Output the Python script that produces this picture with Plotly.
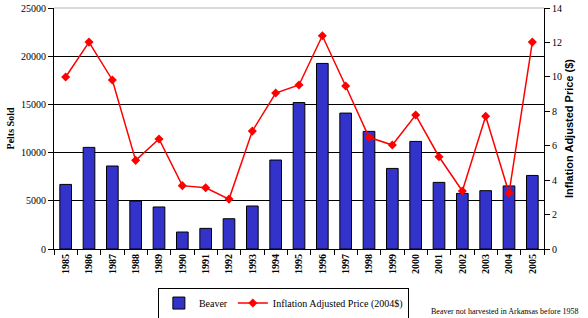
import plotly.graph_objects as go

years = [str(y) for y in range(1985, 2006)]
pelts = [6700, 10540, 8610, 4980, 4360, 1760, 2140, 3140, 4460, 9230, 15190,
         19250, 14100, 12200, 8360, 11160, 6910, 5770, 6050, 6540, 7630]
price = [9.99, 12.02, 9.82, 5.15, 6.39, 3.68, 3.56, 2.90, 6.85, 9.06, 9.53,
         12.39, 9.47, 6.49, 6.04, 7.78, 5.36, 3.37, 7.71, 3.25, 12.02]

serif = "Liberation Serif"
sans = "Liberation Sans"

fig = go.Figure()
fig.add_trace(go.Bar(
    x=years, y=pelts, name="Beaver",
    marker=dict(color="#3333CC", line=dict(color="#000000", width=1)),
    yaxis="y"))
fig.add_trace(go.Scatter(
    x=years, y=price, name="Inflation Adjusted Price (2004$)",
    mode="lines+markers",
    line=dict(color="#FF0000", width=1.5),
    marker=dict(symbol="diamond", size=7, color="#FF0000"),
    yaxis="y2"))

fig.update_layout(
    width=588, height=318,
    margin=dict(l=54, r=44, t=8, b=69, autoexpand=False),
    paper_bgcolor="white", plot_bgcolor="white",
    bargap=0.5,
    showlegend=True,
    legend=dict(orientation="h", x=0.212, y=-0.16, xanchor="left", yanchor="top",
                bordercolor="#000000", borderwidth=1,
                font=dict(family=serif, size=10, color="#000"),
                itemwidth=30, tracegroupgap=0, entrywidthmode="pixels"),
    xaxis=dict(type="category", range=[-0.5, 20.5], autorange=False,
               tickangle=-90, showline=True, linecolor="#000",
               ticks="outside", tickson="boundaries", ticklen=5, tickcolor="#000",
               tickfont=dict(family=serif, size=10, color="#000", weight="bold"),
               showgrid=False, automargin=False),
    yaxis=dict(range=[0, 25000], dtick=5000, tickformat="d", showline=True, linecolor="#000",
               ticks="outside", ticklen=5, tickcolor="#000",
               showgrid=True, gridcolor="#000", gridwidth=1,
               tickfont=dict(family=serif, size=10, color="#000"),
               title=dict(text="Pelts Sold", font=dict(family=serif, size=10, color="#000", weight="bold"),
                          standoff=4),
               zeroline=False, automargin=False),
    yaxis2=dict(range=[0, 14], dtick=2, overlaying="y", side="right",
                showline=True, linecolor="#000", ticks="outside", ticklen=5, tickcolor="#000",
                showgrid=False, zeroline=False, automargin=False,
                tickfont=dict(family=serif, size=10, color="#000"),
                title=dict(text="Inflation Adjusted Price ($)",
                           font=dict(family=sans, size=11, color="#000", weight="bold"),
                           standoff=4)),
    shapes=[dict(type="line", xref="paper", yref="paper", x0=0, x1=1, y0=1, y1=1,
                 line=dict(color="#D9D9D9", width=2), layer="above")],
    annotations=[dict(text="Beaver not harvested in Arkansas before 1958",
                      xref="paper", yref="paper", x=0.765, y=-0.232,
                      xanchor="left", yanchor="top", showarrow=False,
                      font=dict(family=serif, size=8, color="#000"))],
)

fig.write_html("out.html", config={"displayModeBar": False},
               post_script="document.body.style.margin='0';document.body.style.padding='0';")
